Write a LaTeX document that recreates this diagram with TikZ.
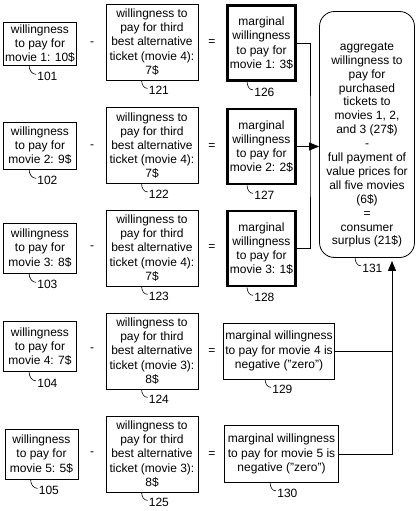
\documentclass[tikz,border=0pt]{standalone}
\usepackage{fontspec}
\setmainfont{Liberation Sans}
\usetikzlibrary{positioning,arrows.meta}

\begin{document}
\begin{tikzpicture}[
  x=1pt, y=1pt,
  font=\fontsize{12}{14.2}\selectfont,
  box/.style={draw=black, line width=0.8pt, align=center, inner sep=1pt},
  wbox/.style={box, minimum width=73pt},
  altbox/.style={box, minimum width=92pt, minimum height=76pt},
  mbox/.style={box, line width=2.8pt, minimum width=68pt, minimum height=75pt},
  negbox/.style={box, minimum height=56pt},
  sumbox/.style={box, rounded corners=15pt, minimum width=95pt, minimum height=246pt},
  op/.style={inner sep=1pt},
  lead/.style={line width=0.6pt},
  ref/.style={anchor=west, inner sep=1pt, yshift=-2pt},
  conn/.style={line width=0.8pt},
  arr/.style={conn, -{Triangle[length=10pt,width=8pt]}},
]
\useasboundingbox (0,0) rectangle (420,-511);

\node[wbox, minimum height=43pt] (w1) at (40,-43.5)   {willingness\\to pay for\\movie 1: 10\$};
\node[wbox, minimum height=47pt] (w2) at (40,-145.5)  {willingness\\to pay for\\movie 2: 9\$};
\node[wbox, minimum height=50pt] (w3) at (40,-248)    {willingness\\to pay for\\movie 3: 8\$};
\node[wbox, minimum height=50pt] (w4) at (40,-346.5)  {willingness\\to pay for\\movie 4: 7\$};
\node[wbox, minimum height=50pt] (w5) at (41.5,-454)  {willingness\\to pay for\\movie 5: 5\$};

\node[op] (m1) at (92,-43.5)  {-};
\node[op] (m2) at (92,-146.5) {-};
\node[op] (m3) at (92,-248)   {-};
\node[op] (m4) at (92,-350)   {-};
\node[op] (m5) at (92,-454)   {-};

\node[altbox] (alt1) at (152,-42)    {willingness to\\pay for third\\best alternative\\ticket (movie 4):\\7\$};
\node[altbox] (alt2) at (152,-145.5) {willingness to\\pay for third\\best alternative\\ticket (movie 4):\\7\$};
\node[altbox] (alt3) at (152,-248)   {willingness to\\pay for third\\best alternative\\ticket (movie 4):\\7\$};
\node[altbox] (alt4) at (152,-351)   {willingness to\\pay for third\\best alternative\\ticket (movie 3):\\8\$};
\node[altbox] (alt5) at (152,-454)   {willingness to\\pay for third\\best alternative\\ticket (movie 3):\\8\$};

\node[op] (e1) at (212,-43)    {=};
\node[op] (e2) at (212,-146.5) {=};
\node[op] (e3) at (212,-248)   {=};
\node[op] (e4) at (212,-352)   {=};
\node[op] (e5) at (212,-455)   {=};

\node[mbox] (mw1) at (261.5,-43)    {marginal\\willingness\\to pay for\\movie 1: 3\$};
\node[mbox] (mw2) at (261.5,-146.5) {marginal\\willingness\\to pay for\\movie 2: 2\$};
\node[mbox] (mw3) at (261.5,-248.5) {marginal\\willingness\\to pay for\\movie 3: 1\$};
\node[negbox, minimum width=111pt] (neg4) at (279,-351)   {marginal willingness\\to pay for movie 4 is\\negative ("zero")};
\node[negbox, minimum width=114pt, minimum height=57pt] (neg5) at (281.5,-454) {marginal willingness\\to pay for movie 5 is\\negative ("zero")};

\node[sumbox] (agg) at (367,-134.5) {};
\node[align=center, inner sep=0pt, font=\fontsize{12}{13.9}\selectfont] (aggtext) at (367,-145)
  {aggregate\\willingness to\\pay for\\purchased\\tickets to\\movies 1, 2,\\and 3 (27\$)\\-\\full payment of\\value prices for\\all five movies\\(6\$)\\=\\consumer\\surplus (21\$)};

\draw[lead] ([xshift=26pt]w1.south west) to[out=-90,in=180] ++(7,-9) node[ref] (r101) {101};
\draw[lead] ([xshift=26pt]w2.south west) to[out=-90,in=180] ++(7,-9) node[ref] (r102) {102};
\draw[lead] ([xshift=26pt]w3.south west) to[out=-90,in=180] ++(7,-9) node[ref] (r103) {103};
\draw[lead] ([xshift=26pt]w4.south west) to[out=-90,in=180] ++(7,-9) node[ref] (r104) {104};
\draw[lead] ([xshift=26pt]w5.south west) to[out=-90,in=180] ++(7,-9) node[ref] (r105) {105};
\draw[lead] ([xshift=36pt]alt1.south west) to[out=-90,in=180] ++(6,-8) node[ref] (r121) {121};
\draw[lead] ([xshift=36pt]alt2.south west) to[out=-90,in=180] ++(6,-8) node[ref] (r122) {122};
\draw[lead] ([xshift=36pt]alt3.south west) to[out=-90,in=180] ++(6,-8) node[ref] (r123) {123};
\draw[lead] ([xshift=36pt]alt4.south west) to[out=-90,in=180] ++(6,-8) node[ref] (r124) {124};
\draw[lead] ([xshift=36pt]alt5.south west) to[out=-90,in=180] ++(6,-8) node[ref] (r125) {125};
\draw[lead] ([xshift=21pt]mw1.south west) to[out=-90,in=180] ++(6,-8) node[ref] (r126) {126};
\draw[lead] ([xshift=21pt]mw2.south west) to[out=-90,in=180] ++(6,-8) node[ref] (r127) {127};
\draw[lead] ([xshift=21pt]mw3.south west) to[out=-90,in=180] ++(6,-8) node[ref] (r128) {128};
\draw[lead] ([xshift=42pt]neg4.south west) to[out=-90,in=180] ++(6,-8) node[ref] (r129) {129};
\draw[lead] ([xshift=46pt]neg5.south west) to[out=-90,in=180] ++(6,-8) node[ref] (r130) {130};
\draw[lead] ([xshift=36pt]agg.south west) to[out=-90,in=180] ++(6,-8) node[ref] (r131) {131};

\coordinate (jA) at (310,-146.5);
\coordinate (jB) at (392,-351);
\draw[conn] (mw1.east) -| (jA) |- (mw3.east);
\draw[arr] (mw2.east) -- (mw2.east -| agg.west);
\draw[conn] (neg4.east) -- (neg4.east -| jB);
\draw[arr] (neg5.east) -| ([yshift=-3pt]agg.south -| jB);
\end{tikzpicture}
\end{document}
